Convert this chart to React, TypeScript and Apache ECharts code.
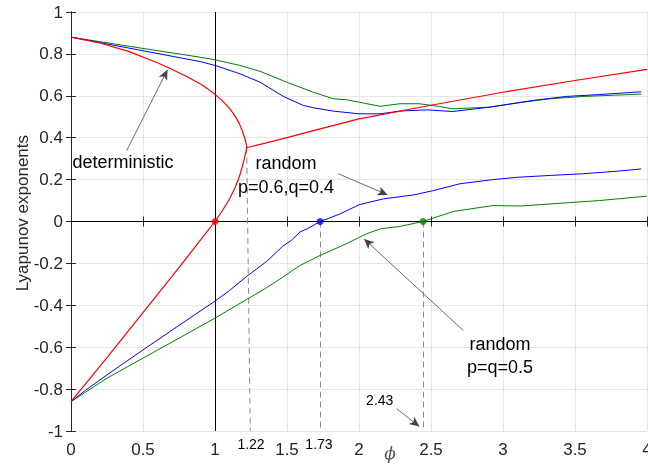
import { useEffect, useRef } from "react";
import * as echarts from "echarts";

// ---- data ----
const redUpper: [number, number][] = [
  [0, 0.88], [0.2, 0.852], [0.4, 0.812], [0.6, 0.758], [0.7, 0.727], [0.8, 0.693],
  [0.9, 0.656], [0.95, 0.633], [1.0, 0.607], [1.05, 0.577], [1.1, 0.541], [1.14, 0.503],
  [1.17, 0.466], [1.19, 0.432], [1.205, 0.402], [1.213, 0.382], [1.218, 0.366], [1.22, 0.352],
  [1.35, 0.374], [1.5, 0.4], [1.683, 0.434], [2.0, 0.49], [2.5, 0.555], [3.0, 0.617],
  [3.5, 0.673], [4.0, 0.726],
];
const redLower: [number, number][] = [
  [0, -0.86], [0.25, -0.65], [0.5, -0.435], [0.75, -0.22], [0.9, -0.088], [1.0, 0],
  [1.05, 0.05], [1.1, 0.106], [1.14, 0.162], [1.17, 0.216], [1.19, 0.262], [1.205, 0.304],
  [1.215, 0.333], [1.22, 0.352],
];
const blueUpper: [number, number][] = [
  [0, 0.88], [0.5, 0.815], [0.9, 0.763], [1.0, 0.745], [1.174, 0.705], [1.3125, 0.665],
  [1.475, 0.597], [1.613, 0.554], [1.683, 0.543], [1.82, 0.527], [2.0, 0.514], [2.146, 0.514],
  [2.285, 0.527], [2.47, 0.533], [2.65, 0.525], [2.91, 0.546], [3.21, 0.578], [3.44, 0.597],
  [3.67, 0.606], [3.96, 0.619],
];
const greenUpper: [number, number][] = [
  [0, 0.88], [0.5, 0.826], [0.9, 0.784], [1.0, 0.772], [1.174, 0.745], [1.3125, 0.717],
  [1.498, 0.665], [1.683, 0.617], [1.82, 0.586], [1.914, 0.581], [2.146, 0.55], [2.285, 0.562],
  [2.42, 0.562], [2.56, 0.549], [2.65, 0.538], [2.91, 0.546], [3.1, 0.566], [3.33, 0.586],
  [3.56, 0.597], [3.96, 0.608],
];
const blueLower: [number, number][] = [
  [0, -0.86], [0.1, -0.806], [0.25, -0.732], [0.5, -0.613], [0.75, -0.496], [1.0, -0.38],
  [1.1, -0.33], [1.22, -0.262], [1.36, -0.19], [1.47, -0.118], [1.53, -0.09], [1.59, -0.05],
  [1.64, -0.035], [1.73, 0], [1.868, 0.036], [2.0, 0.08], [2.17, 0.108], [2.38, 0.127],
  [2.52, 0.148], [2.7, 0.18], [2.93, 0.2], [3.1, 0.211], [3.33, 0.22], [3.56, 0.228],
  [3.79, 0.24], [3.96, 0.251],
];
const greenLower: [number, number][] = [
  [0, -0.86], [0.1, -0.815], [0.25, -0.748], [0.5, -0.652], [0.75, -0.557], [1.0, -0.461],
  [1.22, -0.372], [1.35, -0.32], [1.47, -0.266], [1.59, -0.21], [1.73, -0.162], [1.91, -0.107],
  [2.05, -0.059], [2.15, -0.035], [2.28, -0.024], [2.445, 0], [2.655, 0.048], [2.93, 0.076],
  [3.12, 0.074], [3.44, 0.089], [3.67, 0.1], [4.0, 0.121],
];
const zeroPoints: { x: number; color: string }[] = [
  { x: 1.0, color: "#ff0000" },
  { x: 1.73, color: "#0000ff" },
  { x: 2.445, color: "#008000" },
];
// dashed guide lines [from, to]
const guides: [[number, number], [number, number]][] = [
  [[1.22, 0.352], [1.245, -1]],
  [[1.73, 0], [1.73, -1]],
  [[2.445, 0], [2.445, -1]],
];
// arrows [from, to]
const arrows: [[number, number], [number, number]][] = [
  [[0.387, 0.339], [0.67, 0.724]],
  [[1.856, 0.228], [2.199, 0.127]],
  [[2.724, -0.52], [2.035, -0.083]],
  [[2.262, -0.894], [2.419, -0.979]],
];
// text annotations [x, y, text, fontSize, lineHeight]
const notes: [number, number, string, number, number][] = [
  [0.361, 0.282, "deterministic", 18, 22],
  [1.493, 0.22, "random\np=0.6,q=0.4", 18, 24],
  [2.979, -0.642, "random\np=q=0.5", 18, 23],
  [2.144, -0.854, "2.43", 14, 16],
  [1.25, -1.061, "1.22", 14, 16],
  [1.722, -1.06, "1.73", 14, 16],
];
const xMin = 0, xMax = 4, xStep = 0.5;
const yMin = -1, yMax = 1, yStep = 0.2;
const xLabel = "ϕ";
const yLabel = "Lyapunov exponents";

const FONT = "'Liberation Sans', Arial, Helvetica, sans-serif";

export default function App() {
  const ref = useRef<HTMLDivElement>(null);
  useEffect(() => {
    if (!ref.current) return;
    const chart = echarts.init(ref.current, undefined, { renderer: "svg" });
    const lineSeries = (data: [number, number][], color: string, w = 1) => ({
      type: "line",
      data,
      showSymbol: false,
      symbol: "none",
      lineStyle: { color, width: w },
      itemStyle: { color },
      z: 5,
      silent: true,
    });
    const axisCommon = {
      type: "value",
      axisLine: { show: true, lineStyle: { color: "#262626", width: 1 } },
      axisTick: { show: true, inside: true, length: 5, lineStyle: { color: "#262626" } },
    };
    const option: any = {
      animation: false,
      grid: {
        left: 71, right: 1, top: 12, bottom: 35,
        containLabel: false,
        outerBoundsMode: "none",
      },
      xAxis: [
        {
          ...axisCommon,
          min: xMin, max: xMax, interval: xStep, position: "bottom",
          axisLabel: { color: "#262626", fontSize: 17, fontFamily: FONT, margin: 10 },
          splitLine: { show: true, lineStyle: { color: "#e6e6e6", width: 1 } },
        },
        {
          ...axisCommon,
          min: xMin, max: xMax, interval: xStep, position: "top",
          axisLabel: { show: false }, splitLine: { show: false },
        },
      ],
      yAxis: [
        {
          ...axisCommon,
          min: yMin, max: yMax, interval: yStep, position: "left",
          axisLabel: { color: "#262626", fontSize: 17, fontFamily: FONT, margin: 8 },
          splitLine: { show: true, lineStyle: { color: "#e6e6e6", width: 1 } },
        },
        {
          ...axisCommon,
          min: yMin, max: yMax, interval: yStep, position: "right",
          axisLabel: { show: false }, splitLine: { show: false },
        },
      ],
      series: [
        {
          type: "line",
          data: [],
          silent: true,
          markLine: {
            silent: true,
            symbol: ["none", "none"],
            label: { show: false },
            lineStyle: { color: "#000", width: 1, type: "solid" },
            data: [{ xAxis: 1 }, { yAxis: 0 }],
          },
          z: 3,
        },
        {
          type: "line",
          data: [],
          silent: true,
          markLine: {
            silent: true,
            symbol: ["none", "none"],
            label: { show: false },
            lineStyle: { color: "#8a8a8a", width: 1, type: [6, 4] },
            data: guides.map(([a, b]) => [{ coord: a }, { coord: b }]),
          },
          z: 3,
        },
        lineSeries(greenUpper, "#008000"),
        lineSeries(greenLower, "#008000"),
        lineSeries(blueUpper, "#0000ff"),
        lineSeries(blueLower, "#0000ff"),
        lineSeries(redUpper, "#ff0000", 1.2),
        lineSeries(redLower, "#ff0000", 1.2),
        {
          type: "scatter",
          data: zeroPoints.map((p) => ({ value: [p.x, 0], itemStyle: { color: p.color } })),
          symbolSize: 7,
          silent: true,
          z: 8,
        },
        {
          type: "line",
          data: [],
          silent: true,
          markLine: {
            silent: true,
            symbol: ["none", "arrow"],
            symbolSize: [7, 10],
            label: { show: false },
            lineStyle: { color: "#444", width: 0.8, type: "solid" },
            data: arrows.map(([a, b]) => [{ coord: a }, { coord: b }]),
          },
          z: 9,
        },
      ],
    };
    chart.setOption(option);
    const px = (x: number, y: number) =>
      chart.convertToPixel({ xAxisIndex: 0, yAxisIndex: 0 }, [x, y]) as number[];
    const graphics: any[] = notes.map(([x, y, t, fs, lh]) => {
      const p = px(x, y);
      return {
        type: "text",
        x: p[0],
        y: p[1],
        silent: true,
        z: 20,
        style: {
          text: t,
          fontSize: fs,
          lineHeight: lh,
          fontFamily: FONT,
          fill: "#000",
          align: "center",
          verticalAlign: "middle",
        },
      };
    });
    const phiPos = px(2.215, -1.105);
    graphics.push({
      type: "text",
      x: phiPos[0],
      y: phiPos[1],
      silent: true,
      style: {
        text: xLabel,
        fontSize: 17,
        fontStyle: "italic",
        fontFamily: "'DejaVu Serif', serif",
        fill: "#555",
        align: "center",
        verticalAlign: "middle",
      },
    });
    const yl = px(0, 0.04);
    graphics.push({
      type: "text",
      x: 22,
      y: yl[1],
      rotation: Math.PI / 2,
      silent: true,
      style: {
        text: yLabel,
        fontSize: 17,
        fontFamily: FONT,
        fill: "#262626",
        align: "center",
        verticalAlign: "middle",
      },
    });
    chart.setOption({ graphic: graphics });
    return () => chart.dispose();
  }, []);
  return (
    <div
      ref={ref}
      style={{ position: "fixed", left: 0, top: 0, width: 648, height: 466 }}
    />
  );
}
